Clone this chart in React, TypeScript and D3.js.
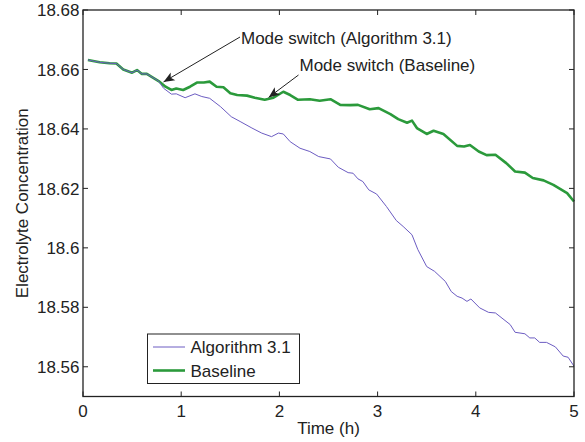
import React from "react";
import * as d3 from "d3";

const algoTime = [0.05,0.17,0.27,0.34,0.41,0.50,0.55,0.60,0.65,0.72,0.77,0.82,0.90,0.95,1.04,1.14,1.21,1.29,1.40,1.51,1.60,1.72,1.82,1.92,1.99,2.04,2.11,2.21,2.31,2.40,2.52,2.60,2.70,2.75,2.80,2.85,2.91,2.99,3.09,3.19,3.26,3.35,3.41,3.50,3.58,3.69,3.75,3.81,3.86,3.91,3.95,4.04,4.13,4.20,4.35,4.40,4.50,4.55,4.60,4.65,4.72,4.81,4.89,4.94,5.00];
const algoValue = [18.6632,18.6624,18.6621,18.6620,18.6600,18.6589,18.6598,18.6585,18.6585,18.6571,18.6561,18.6537,18.6517,18.6518,18.6505,18.6518,18.6509,18.6503,18.6475,18.6441,18.6425,18.6403,18.6386,18.6374,18.6386,18.6383,18.6357,18.6335,18.6324,18.6307,18.6299,18.6271,18.6253,18.6251,18.6232,18.6223,18.6195,18.6181,18.6139,18.6092,18.6072,18.6044,18.5994,18.5937,18.5921,18.5887,18.5853,18.5837,18.5831,18.5820,18.5828,18.5798,18.5783,18.5781,18.5742,18.5716,18.5711,18.5697,18.5697,18.5682,18.5682,18.5667,18.5636,18.5632,18.5602];

const baseTime = [0.05,0.17,0.27,0.34,0.41,0.50,0.55,0.60,0.65,0.72,0.77,0.84,0.90,0.95,1.02,1.09,1.16,1.23,1.29,1.36,1.43,1.50,1.57,1.67,1.75,1.85,1.94,2.04,2.11,2.19,2.31,2.41,2.52,2.62,2.72,2.80,2.92,3.01,3.13,3.21,3.30,3.35,3.40,3.50,3.57,3.67,3.81,3.88,3.94,4.03,4.11,4.20,4.31,4.40,4.50,4.58,4.69,4.79,4.93,5.00];
const baseValue = [18.6632,18.6624,18.6621,18.6620,18.6600,18.6589,18.6598,18.6585,18.6585,18.6571,18.6561,18.6542,18.6531,18.6536,18.6531,18.6542,18.6556,18.6556,18.6559,18.6542,18.6540,18.6520,18.6514,18.6512,18.6505,18.6498,18.6505,18.6525,18.6514,18.6498,18.6500,18.6495,18.6500,18.6481,18.6480,18.6481,18.6466,18.6470,18.6450,18.6433,18.6421,18.6428,18.6403,18.6383,18.6394,18.6383,18.6343,18.6341,18.6346,18.6324,18.6312,18.6313,18.6285,18.6257,18.6253,18.6235,18.6227,18.6212,18.6184,18.6156];

const xTicks = [0, 1, 2, 3, 4, 5];
const yTicks = [18.56, 18.58, 18.6, 18.62, 18.64, 18.66, 18.68];
const seriesNames = ["Algorithm 3.1", "Baseline"];
const annotationTexts = ["Mode switch (Algorithm 3.1)", "Mode switch (Baseline)"];
const annotationTargets = [[0.82, 18.6558], [1.89, 18.6506]];

const W = 585, H = 442;
const L = 83, R = 574, T = 10, B = 396.5;
const PURPLE = "#6c5cc2";
const GREEN = "#2b9a3b";
const FONT = "'Liberation Sans', Arial, sans-serif";
const FS = 17;

function arrowHead(x1: number, y1: number, x2: number, y2: number, len = 11, half = 4.5) {
  const a = Math.atan2(y2 - y1, x2 - x1);
  const bx = x2 - len * Math.cos(a), by = y2 - len * Math.sin(a);
  const px = -Math.sin(a) * half, py = Math.cos(a) * half;
  return `M${x2},${y2}L${bx + px},${by + py}L${bx + len * 0.25 * Math.cos(a)},${by + len * 0.25 * Math.sin(a)}L${bx - px},${by - py}Z`;
}

export default function App() {
  const x = d3.scaleLinear().domain([0, 5]).range([L, R]);
  const y = d3.scaleLinear().domain([18.55, 18.68]).range([B, T]);
  const line = d3.line<[number, number]>().x(d => x(d[0])).y(d => y(d[1]));
  const algo = algoTime.map((t, i) => [t, algoValue[i]] as [number, number]);
  const base = baseTime.map((t, i) => [t, baseValue[i]] as [number, number]);

  const ann = [
    { sx: 240, sy: 37, tx: x(annotationTargets[0][0]), ty: y(annotationTargets[0][1]), lx: 241, ly: 38 },
    { sx: 298.5, sy: 75, tx: x(annotationTargets[1][0]), ty: y(annotationTargets[1][1]), lx: 299.5, ly: 65 },
  ];

  return (
    <svg width={W} height={H} style={{ position: "absolute", left: 0, top: 0, background: "#fff" }} fontFamily={FONT}>
      <rect x={0} y={0} width={W} height={H} fill="#fff" />
      <path d={line(base) || ""} fill="none" stroke={GREEN} strokeWidth={2.6} strokeLinejoin="round" />
      <path d={line(algo) || ""} fill="none" stroke={PURPLE} strokeWidth={1} strokeLinejoin="round" />
      <rect x={L} y={T} width={R - L} height={B - T} fill="none" stroke="#222" strokeWidth={1.3} />
      {xTicks.map(t => (
        <g key={"x" + t}>
          <line x1={x(t)} x2={x(t)} y1={B} y2={B - 5} stroke="#222" strokeWidth={1} />
          <line x1={x(t)} x2={x(t)} y1={T} y2={T + 5} stroke="#222" strokeWidth={1} />
          <text x={x(t)} y={417} textAnchor="middle" fontSize={FS} fill="#222">{d3.format("d")(t)}</text>
        </g>
      ))}
      {yTicks.map(v => (
        <g key={"y" + v}>
          <line x1={L} x2={L + 5} y1={y(v)} y2={y(v)} stroke="#222" strokeWidth={1} />
          <line x1={R} x2={R - 5} y1={y(v)} y2={y(v)} stroke="#222" strokeWidth={1} />
          <text x={79.5} y={y(v)} dy="0.36em" textAnchor="end" fontSize={FS} fill="#222">{String(+v.toFixed(2))}</text>
        </g>
      ))}
      <text x={(L + R) / 2} y={433.5} textAnchor="middle" fontSize={FS} fill="#222">Time (h)</text>
      <text transform={`translate(28,${(T + B) / 2}) rotate(-90)`} textAnchor="middle" fontSize={FS} fill="#222">Electrolyte Concentration</text>
      {ann.map((a, i) => (
        <g key={"a" + i}>
          <line x1={a.sx} y1={a.sy} x2={a.tx} y2={a.ty} stroke="#222" strokeWidth={1} />
          <path d={arrowHead(a.sx, a.sy, a.tx, a.ty)} fill="#222" />
          <text x={a.lx} y={a.ly} dy="0.36em" fontSize={FS} fill="#222">{annotationTexts[i]}</text>
        </g>
      ))}
      <rect x={147.5} y={334} width={152} height={49.5} fill="#fff" stroke="#222" strokeWidth={1} />
      <line x1={153} x2={185} y1={347} y2={347} stroke={PURPLE} strokeWidth={1} />
      <line x1={153} x2={185} y1={370.5} y2={370.5} stroke={GREEN} strokeWidth={2.6} />
      <text x={190.5} y={347} dy="0.36em" fontSize={FS} fill="#222">{seriesNames[0]}</text>
      <text x={190.5} y={370.5} dy="0.36em" fontSize={FS} fill="#222">{seriesNames[1]}</text>
    </svg>
  );
}
